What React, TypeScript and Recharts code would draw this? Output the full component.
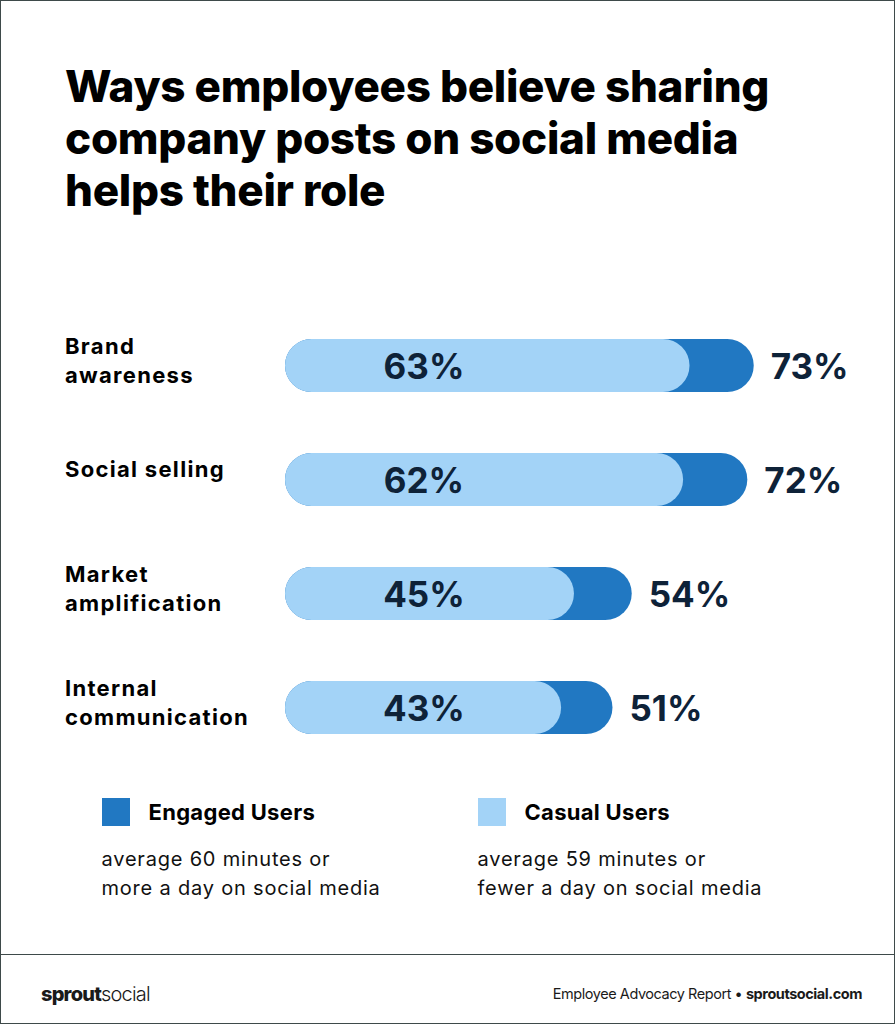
import React from "react";
import { Bar, BarChart, LabelList, XAxis, YAxis } from "recharts";

const categories = [
  ["Brand", "awareness"],
  ["Social selling"],
  ["Market", "amplification"],
  ["Internal", "communication"],
];
const engagedValues = [73, 72, 54, 51];
const casualValues = [63, 62, 45, 43];

const titleLines = [
  "Ways employees believe sharing",
  "company posts on social media",
  "helps their role",
];

const DARK = "#2178c2";
const LIGHT = "#a3d3f7";
const NAVY = "#0e2238";
const FONT = "Inter, 'Open Sans', sans-serif";

const data = categories.map((lines, i) => ({
  name: lines.join(" "),
  lines,
  engaged: engagedValues[i],
  casual: casualValues[i],
}));

function CategoryTick(props: any) {
  const { y, payload } = props;
  const lines: string[] = data[payload.index]?.lines ?? [payload.value];
  const lh = 29;
  const start = y - 5 - ((lines.length - 1) * lh) / 2 - (lines.length === 1 ? 5 : 0);
  return (
    <text
      x={65}
      y={start}
      textAnchor="start"
      fill="#000"
      fontSize={22}
      fontWeight={700}
      letterSpacing={1.3}
      fontFamily={FONT}
    >
      {lines.map((l, i) => (
        <tspan key={i} x={65} y={start + i * lh} dominantBaseline="central">
          {l}
        </tspan>
      ))}
    </text>
  );
}

function InsideLabel(props: any) {
  const { x, y, height, value } = props;
  return (
    <text
      x={x + 139}
      y={y + height / 2}
      textAnchor="middle"
      dominantBaseline="central"
      fill={NAVY}
      fontSize={35}
      fontWeight={700}
      fontFamily={FONT}
    >
      {value}%
    </text>
  );
}

function OutsideLabel(props: any) {
  const { x, y, width, height, value } = props;
  return (
    <text
      x={x + width + 17}
      y={y + height / 2}
      textAnchor="start"
      dominantBaseline="central"
      fill={NAVY}
      fontSize={35}
      fontWeight={700}
      fontFamily={FONT}
    >
      {value}%
    </text>
  );
}

function LegendItem({ color, title, lines, left }: { color: string; title: string; lines: string[]; left: number }) {
  return (
    <div style={{ position: "absolute", left, top: 797 }}>
      <div style={{ display: "flex", alignItems: "center" }}>
        <div style={{ width: 28, height: 28, background: color }} />
        <span style={{ marginLeft: 19, fontSize: 22, fontWeight: 700, color: "#000", letterSpacing: 0.3 }}>
          {title}
        </span>
      </div>
      <div style={{ marginTop: 19, fontSize: 20, lineHeight: "29px", color: "#111", letterSpacing: 0.8 }}>
        {lines.map((l) => (
          <div key={l}>{l}</div>
        ))}
      </div>
    </div>
  );
}

export default function App() {
  return (
    <div
      style={{
        position: "absolute",
        top: 0,
        left: 0,
        width: 895,
        height: 1024,
        boxSizing: "border-box",
        border: "1.5px solid #3e4a4a",
        background: "#fff",
        fontFamily: FONT,
        overflow: "hidden",
      }}
    >
      <div
        style={{
          position: "absolute",
          left: 64,
          top: 59,
          fontSize: 44,
          fontWeight: 800,
          lineHeight: "52px",
          color: "#000",
          letterSpacing: -0.3,
        }}
      >
        {titleLines.map((l) => (
          <div key={l}>{l}</div>
        ))}
      </div>

      <div style={{ position: "absolute", left: -1.5, top: 306.5 }}>
        <BarChart
          width={895}
          height={456}
          data={data}
          layout="vertical"
          margin={{ top: 0, right: 0, bottom: 0, left: 0 }}
          barSize={53}
          barGap={-53}
          barCategoryGap={0}
        >
          <XAxis type="number" domain={[0, 95]} hide />
          <YAxis
            type="category"
            dataKey="name"
            width={285}
            axisLine={false}
            tickLine={false}
            tick={<CategoryTick />}
            interval={0}
          />
          <Bar dataKey="engaged" fill={DARK} radius={26.5} isAnimationActive={false}>
            <LabelList dataKey="engaged" content={<OutsideLabel />} />
          </Bar>
          <Bar dataKey="casual" fill={LIGHT} radius={26.5} isAnimationActive={false}>
            <LabelList dataKey="casual" content={<InsideLabel />} />
          </Bar>
        </BarChart>
      </div>

      <LegendItem
        color={DARK}
        title="Engaged Users"
        lines={["average 60 minutes or", "more a day on social media"]}
        left={100.5}
      />
      <LegendItem
        color={LIGHT}
        title="Casual Users"
        lines={["average 59 minutes or", "fewer a day on social media"]}
        left={476.5}
      />

      <div style={{ position: "absolute", left: 0, right: 0, top: 953, borderTop: "1.5px solid #3e4a4a" }} />
      <div style={{ position: "absolute", left: 40, top: 981, fontSize: 20, color: "#1a1a1a", letterSpacing: -0.8 }}>
        <span style={{ fontWeight: 800 }}>sprout</span>
        <span style={{ fontWeight: 300 }}>social</span>
      </div>
      <div style={{ position: "absolute", right: 32, top: 984, fontSize: 14.5, color: "#1a1a1a", letterSpacing: -0.45 }}>
        Employee Advocacy Report • <span style={{ fontWeight: 700 }}>sproutsocial.com</span>
      </div>
    </div>
  );
}
